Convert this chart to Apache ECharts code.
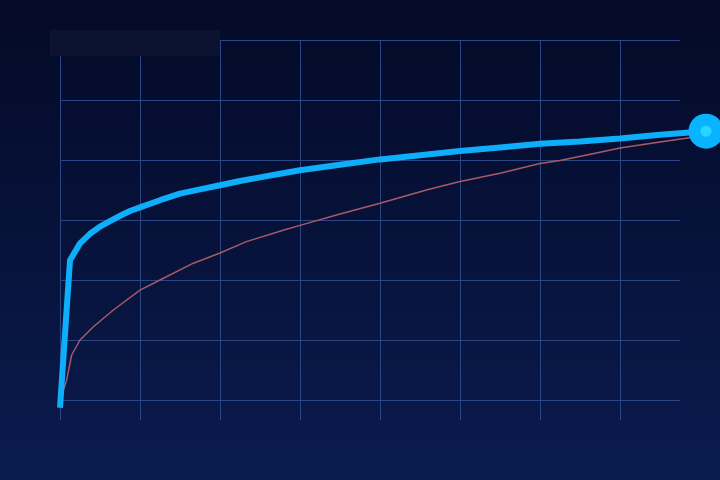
<!DOCTYPE html>
<html>
<head>
<meta charset="utf-8">
<script src="https://cdn.jsdelivr.net/npm/echarts@6/dist/echarts.min.js"></script>
<style>html,body{margin:0;padding:0;background:#06102e;}#c{width:720px;height:480px;}</style>
</head>
<body>
<div id="c"></div>
<script>
var blueX = [0, 0.125, 0.25, 0.375, 0.5, 0.625, 0.75, 0.875, 1.0, 1.25, 1.5, 1.75, 2.0, 2.25, 2.5, 2.75, 3.0, 3.5, 4.0, 4.5, 5.0, 5.5, 6.0, 6.5, 7.0, 7.5, 8.075];
var blueY = [-1.3, 23.3, 26.1, 27.7, 28.9, 29.8, 30.7, 31.5, 32.1, 33.3, 34.4, 35.1, 35.8, 36.5, 37.1, 37.7, 38.3, 39.2, 40.1, 40.8, 41.5, 42.1, 42.7, 43.1, 43.6, 44.2, 44.8];
var redX = [0, 0.083, 0.146, 0.25, 0.417, 0.667, 1.0, 1.25, 1.667, 2.0, 2.33, 2.79, 3.0, 3.5, 4.0, 4.58, 5.0, 5.5, 6.0, 6.25, 6.75, 7.0, 7.5, 7.91, 8.0];
var redY = [0, 3.3, 7.5, 10, 12.2, 15, 18.3, 20, 22.8, 24.5, 26.4, 28.3, 29.1, 31, 32.8, 35, 36.4, 37.8, 39.4, 39.9, 41.3, 42, 43, 43.8, 44.1];

function pairs(xs, ys) { return xs.map(function (x, i) { return [x, ys[i]]; }); }
var blueData = pairs(blueX, blueY);
var redData = pairs(redX, redY);
var endPoint = [blueData[blueData.length - 1]];

var gridColor = '#2c4584';
var hidden = { axisLine: { show: false }, axisTick: { show: false }, axisLabel: { show: false }, splitLine: { show: false } };
var chart = echarts.init(document.getElementById('c'));
chart.setOption({
  animation: false,
  backgroundColor: {
    type: 'linear', x: 0, y: 0, x2: 0, y2: 1,
    colorStops: [{ offset: 0, color: '#040a27' }, { offset: 1, color: '#0a1b4e' }]
  },
  grid: [
    { left: 60, right: 40, top: 40, bottom: 60 },
    { left: 60, right: 0, top: 40, bottom: 60 }
  ],
  xAxis: [{
    type: 'value', gridIndex: 0, min: 0, max: 7.75, interval: 1,
    axisLine: { show: false }, axisTick: { show: false }, axisLabel: { show: false },
    splitLine: { show: true, showMaxLine: false, lineStyle: { color: gridColor, width: 1 } }
  }, Object.assign({ type: 'value', gridIndex: 1, min: 0, max: 8.25 }, hidden)],
  yAxis: [{
    type: 'value', gridIndex: 0, min: -10 / 3, max: 60, splitNumber: 6,
    axisLine: { show: false }, axisTick: { show: false }, axisLabel: { show: false },
    splitLine: { show: true, showMinLine: false, lineStyle: { color: gridColor, width: 1 } }
  }, Object.assign({ type: 'value', gridIndex: 1, min: -10 / 3, max: 60 }, hidden)],
  graphic: [{
    type: 'rect', left: 50, top: 30, z: 100,
    shape: { width: 170, height: 26 },
    style: { fill: '#0b1331' }
  }],
  series: [
    {
      type: 'line', xAxisIndex: 1, yAxisIndex: 1, data: redData, clip: false, showSymbol: false, z: 2,
      lineStyle: { color: '#a85a66', width: 1.5 }
    },
    {
      type: 'line', xAxisIndex: 1, yAxisIndex: 1, data: blueData, clip: false, showSymbol: false, z: 3,
      lineStyle: { color: '#0eaefa', width: 6 }
    },
    {
      type: 'scatter', xAxisIndex: 1, yAxisIndex: 1, data: endPoint, clip: false, symbolSize: 35, z: 4,
      itemStyle: { color: '#08b4ff', opacity: 1 }
    },
    {
      type: 'scatter', xAxisIndex: 1, yAxisIndex: 1, data: endPoint, clip: false, symbolSize: 11, z: 5,
      itemStyle: { color: '#2ad6ff', opacity: 1 }
    }
  ]
});
</script>
</body>
</html>
